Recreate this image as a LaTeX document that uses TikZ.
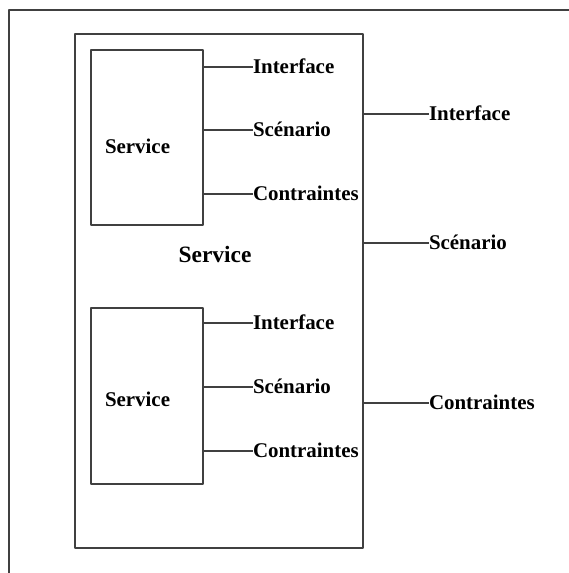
\documentclass[tikz,border=0pt]{standalone}
\usepackage{fontspec}
\setmainfont{Liberation Serif}
\begin{document}
\begin{tikzpicture}[line join=bevel,
  box/.style={draw=black!75,line width=1.2bp,rectangle,inner sep=0pt,outer sep=0pt},
  lbl/.style={inner sep=0pt,outer sep=0pt,anchor=west,text height=13.6bp,text depth=0pt,font=\fontsize{21}{23}\selectfont\bfseries},
  stub/.style={draw=black!75,line width=1.2bp}]
\useasboundingbox (0bp,0bp) rectangle (569bp,573bp);
%%
\draw [black!75,line width=1.2bp] (9bp,0bp) -- (9bp,563bp) -- (569bp,563bp);
\node (svc) at (219bp,282bp) [box,minimum width=288bp,minimum height=514bp] {};
  \node (sub_1) at (147bp,435.5bp) [box,minimum width=112bp,minimum height=175bp] {};
  \node (sub_2) at (147bp,177bp) [box,minimum width=112bp,minimum height=176bp] {};
  \node (svc_title) at (215bp,318bp) [lbl,anchor=center,text height=15.5bp,font=\fontsize{23.5}{25}\selectfont\bfseries] {Service};
  \node (sub_1_title) at (105bp,426bp) [lbl] {Service};
  \node (sub_2_title) at (105bp,173bp) [lbl] {Service};
  \node (if_1) at (253bp,506bp) [lbl] {Interface};
  \node (sc_1) at (253bp,443bp) [lbl] {Scénario};
  \node (ct_1) at (253bp,379bp) [lbl] {Contraintes};
  \node (if_2) at (253bp,250bp) [lbl] {Interface};
  \node (sc_2) at (253bp,186bp) [lbl] {Scénario};
  \node (ct_2) at (253bp,122bp) [lbl] {Contraintes};
  \node (if_svc) at (429bp,459bp) [lbl] {Interface};
  \node (sc_svc) at (429bp,330bp) [lbl] {Scénario};
  \node (ct_svc) at (429bp,170bp) [lbl] {Contraintes};
  \draw [stub] (if_1.west -| sub_1.east) -- (if_1.west);
  \draw [stub] (sc_1.west -| sub_1.east) -- (sc_1.west);
  \draw [stub] (ct_1.west -| sub_1.east) -- (ct_1.west);
  \draw [stub] (if_2.west -| sub_2.east) -- (if_2.west);
  \draw [stub] (sc_2.west -| sub_2.east) -- (sc_2.west);
  \draw [stub] (ct_2.west -| sub_2.east) -- (ct_2.west);
  \draw [stub] (if_svc.west -| svc.east) -- (if_svc.west);
  \draw [stub] (sc_svc.west -| svc.east) -- (sc_svc.west);
  \draw [stub] (ct_svc.west -| svc.east) -- (ct_svc.west);
%
\end{tikzpicture}
\end{document}
